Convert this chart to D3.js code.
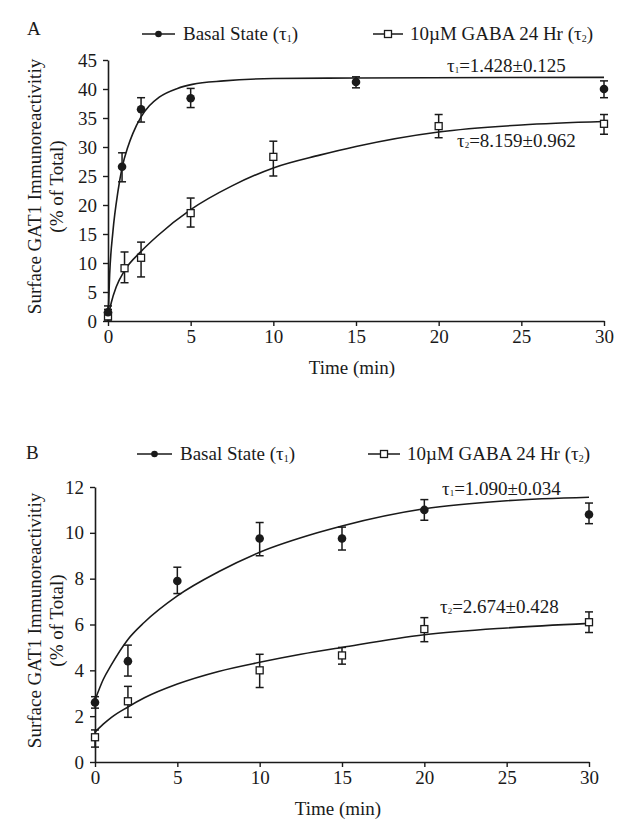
<!DOCTYPE html>
<html>
<head>
<meta charset="utf-8">
<script src="https://cdn.jsdelivr.net/npm/d3@7"></script>
<style>
  html, body { margin: 0; padding: 0; background: #fff; }
  svg { display: block; }
  text { font-family: "Liberation Serif", "Times New Roman", serif; fill: #1a1a1a; }
</style>
</head>
<body>
<svg id="chart" width="633" height="831"></svg>
<script>
// ---------------- DATA ----------------
const xTicks = [0, 5, 10, 15, 20, 25, 30];
const yTicksA = [0, 5, 10, 15, 20, 25, 30, 35, 40, 45];
const yTicksB = [0, 2, 4, 6, 8, 10, 12];

const seriesNames = ["Basal State", "10\u00B5M GABA 24 Hr"];

// Panel A — measured points (time, mean, low, high)
const aBasalT    = [0, 0.85, 2, 5, 15, 30];
const aBasalY    = [1.5, 26.6, 36.5, 38.4, 41.2, 40.0];
const aBasalLo   = [0.4, 24.0, 34.3, 36.8, 40.2, 38.5];
const aBasalHi   = [2.6, 29.0, 38.5, 40.1, 42.1, 41.4];

const aGabaT     = [0, 1, 2, 5, 10, 20, 30];
const aGabaY     = [0.8, 9.1, 10.9, 18.6, 28.3, 33.6, 34.0];
const aGabaLo    = [0.0, 6.6, 7.6, 16.2, 25.0, 31.6, 32.2];
const aGabaHi    = [2.0, 11.9, 13.6, 21.2, 31.0, 35.6, 35.6];

// Panel A — fitted curves
const aBasalFitT = [0, 0.1, 0.3, 0.6, 0.85, 1.2, 1.5, 2, 2.5, 3.1, 4.2, 5.1, 7, 10, 15, 30];
const aBasalFitY = [0, 8, 15.5, 22.3, 26.4, 30.0, 32.3, 35.2, 37.1, 38.6, 40.1, 40.8, 41.4, 41.8, 41.9, 42.0];
const aGabaFitT  = [0, 0.2, 0.5, 1, 2, 3, 5, 7.5, 10, 12.8, 15, 20, 25, 30];
const aGabaFitY  = [0.5, 3.2, 5.9, 8.7, 12.0, 14.7, 19.2, 23.3, 26.4, 28.6, 30.1, 32.6, 33.8, 34.4];

// Panel B — measured points
const bBasalT    = [0, 2, 5, 10, 15, 20, 30];
const bBasalY    = [2.6, 4.4, 7.9, 9.75, 9.75, 11.0, 10.8];
const bBasalLo   = [2.35, 3.75, 7.35, 9.0, 9.25, 10.55, 10.4];
const bBasalHi   = [2.85, 5.1, 8.5, 10.45, 10.25, 11.45, 11.3];

const bGabaT     = [0, 2, 10, 15, 20, 30];
const bGabaY     = [1.08, 2.65, 4.0, 4.65, 5.8, 6.1];
const bGabaLo    = [0.65, 1.95, 3.25, 4.27, 5.25, 5.65];
const bGabaHi    = [1.4, 3.3, 4.7, 5.0, 6.3, 6.55];

// Panel B — fitted curves
const bBasalFitT = [0, 0.5, 1, 2, 3, 5, 7.5, 10, 13.5, 15, 20, 25, 30];
const bBasalFitY = [2.7, 3.6, 4.25, 5.35, 6.1, 7.25, 8.3, 9.15, 10.0, 10.3, 11.05, 11.4, 11.55];
const bGabaFitT  = [0, 0.5, 1, 2, 3, 5, 7.5, 10, 12.5, 15, 20, 25, 30];
const bGabaFitY  = [1.3, 1.65, 1.95, 2.4, 2.8, 3.4, 3.95, 4.35, 4.7, 5.0, 5.55, 5.85, 6.05];

const tauA = [["1", "1.428\u00B10.125"], ["2", "8.159\u00B10.962"]];
const tauB = [["1", "1.090\u00B10.034"], ["2", "2.674\u00B10.428"]];

const yLabel1 = "Surface GAT1 Immunoreactivitiy";
const yLabel2 = "(% of Total)";
const xLabel = "Time (min)";

// ---------------- DRAW ----------------
const svg = d3.select("#chart");
const ink = "#1a1a1a";
const FS = 19;

function zip(t, y, lo, hi) {
  return t.map((d, i) => ({ t: d, y: y[i], lo: lo ? lo[i] : null, hi: hi ? hi[i] : null }));
}

function panel(cfg) {
  const g = svg.append("g");
  const x = d3.scaleLinear().domain([0, 30]).range([cfg.x0, cfg.x1]);
  const y = d3.scaleLinear().domain([0, cfg.yMax]).range([cfg.y0, cfg.y1]);

  // axes
  const xa = g.append("g").attr("transform", `translate(0,${cfg.y0})`)
    .call(d3.axisBottom(x).tickValues(xTicks).tickSize(5).tickSizeOuter(0).tickPadding(4));
  const ya = g.append("g").attr("transform", `translate(${cfg.x0},0)`)
    .call(d3.axisLeft(y).tickValues(cfg.yTicks).tickSize(5).tickSizeOuter(0).tickPadding(6));
  [xa, ya].forEach(a => {
    a.selectAll("path.domain").attr("stroke", ink).attr("stroke-width", 1.6);
    a.selectAll(".tick line").attr("stroke", ink).attr("stroke-width", 1.4);
    a.selectAll(".tick text").attr("font-size", FS).attr("fill", ink)
      .style("font-family", '"Liberation Serif", serif');
  });

  // axis titles
  g.append("text").attr("x", (cfg.x0 + cfg.x1) / 2 - 4).attr("y", cfg.y0 + 53)
    .attr("text-anchor", "middle").attr("font-size", FS).text(xLabel);
  const yc = (cfg.y0 + cfg.y1) / 2 - 4;
  g.append("text").attr("transform", `translate(${cfg.ylx1},${yc}) rotate(-90)`)
    .attr("text-anchor", "middle").attr("font-size", FS).text(yLabel1);
  g.append("text").attr("transform", `translate(${cfg.ylx2},${yc}) rotate(-90)`)
    .attr("text-anchor", "middle").attr("font-size", FS).text(yLabel2);

  // panel letter
  g.append("text").attr("x", cfg.letterX).attr("y", cfg.letterY)
    .attr("font-size", FS).text(cfg.letter);

  // legend
  const ly = cfg.legY;
  const lg = g.append("g");
  lg.append("line").attr("x1", cfg.leg1[0]).attr("x2", cfg.leg1[1]).attr("y1", ly).attr("y2", ly)
    .attr("stroke", ink).attr("stroke-width", 1.5);
  lg.append("circle").attr("cx", (cfg.leg1[0] + cfg.leg1[1]) / 2).attr("cy", ly).attr("r", 3.3).attr("fill", ink);
  const t1 = lg.append("text").attr("x", cfg.leg1[1] + 8).attr("y", ly + 6).attr("font-size", FS);
  t1.append("tspan").text(seriesNames[0] + " (\u03C4");
  t1.append("tspan").attr("font-size", 10).attr("dy", 2).text("1");
  t1.append("tspan").attr("dy", -2).text(")");

  lg.append("line").attr("x1", cfg.leg2[0]).attr("x2", cfg.leg2[1]).attr("y1", ly).attr("y2", ly)
    .attr("stroke", ink).attr("stroke-width", 1.5);
  lg.append("rect").attr("x", (cfg.leg2[0] + cfg.leg2[1]) / 2 - 3.5).attr("y", ly - 3.5)
    .attr("width", 7).attr("height", 7).attr("fill", "#fff").attr("stroke", ink).attr("stroke-width", 1.3);
  const t2 = lg.append("text").attr("x", cfg.leg2[1] + 7).attr("y", ly + 6).attr("font-size", FS);
  t2.append("tspan").text(seriesNames[1] + " (\u03C4");
  t2.append("tspan").attr("font-size", 10).attr("dy", 2).text("2");
  t2.append("tspan").attr("dy", -2).text(")");

  // fit curves
  const line = d3.line().x(d => x(d.t)).y(d => y(d.y)).curve(d3.curveMonotoneX);
  cfg.fits.forEach(f => {
    g.append("path").datum(zip(f[0], f[1])).attr("d", line)
      .attr("fill", "none").attr("stroke", ink).attr("stroke-width", 1.6);
  });

  // error bars + markers
  function errs(data) {
    const eg = g.append("g").attr("stroke", ink).attr("stroke-width", 1.5);
    data.forEach(d => {
      eg.append("line").attr("x1", x(d.t)).attr("x2", x(d.t)).attr("y1", y(d.lo)).attr("y2", y(d.hi));
      [d.lo, d.hi].forEach(v => {
        eg.append("line").attr("x1", x(d.t) - 4).attr("x2", x(d.t) + 4).attr("y1", y(v)).attr("y2", y(v));
      });
    });
  }
  const gaba = zip(...cfg.gaba);
  const basal = zip(...cfg.basal);
  errs(gaba);
  errs(basal);
  g.append("g").selectAll("rect").data(gaba).join("rect")
    .attr("x", d => x(d.t) - 3.5).attr("y", d => y(d.y) - 3.5)
    .attr("width", 7).attr("height", 7)
    .attr("fill", "#fff").attr("stroke", ink).attr("stroke-width", 1.3);
  g.append("g").selectAll("circle").data(basal).join("circle")
    .attr("cx", d => x(d.t)).attr("cy", d => y(d.y)).attr("r", 4.3).attr("fill", ink);

  // tau labels
  cfg.tauPos.forEach((p, i) => {
    const tx = g.append("text").attr("x", p[0]).attr("y", p[1]).attr("font-size", FS);
    tx.append("tspan").text("\u03C4");
    tx.append("tspan").attr("font-size", 9).attr("dy", 1).text(cfg.tau[i][0]);
    tx.append("tspan").attr("dy", -1).text("=" + cfg.tau[i][1]);
  });
}

panel({
  letter: "A", letterX: 27, letterY: 35,
  x0: 108, x1: 604, y0: 321, y1: 60, yMax: 45, yTicks: yTicksA,
  ylx1: 41, ylx2: 63,
  legY: 34, leg1: [142, 175], leg2: [373, 403],
  fits: [[aBasalFitT, aBasalFitY], [aGabaFitT, aGabaFitY]],
  basal: [aBasalT, aBasalY, aBasalLo, aBasalHi],
  gaba: [aGabaT, aGabaY, aGabaLo, aGabaHi],
  tau: tauA, tauPos: [[447, 72], [457, 147]]
});

panel({
  letter: "B", letterX: 26, letterY: 459,
  x0: 95, x1: 589, y0: 762, y1: 487, yMax: 12, yTicks: yTicksB,
  ylx1: 41, ylx2: 63,
  legY: 454, leg1: [137, 172], leg2: [368, 400],
  fits: [[bBasalFitT, bBasalFitY], [bGabaFitT, bGabaFitY]],
  basal: [bBasalT, bBasalY, bBasalLo, bBasalHi],
  gaba: [bGabaT, bGabaY, bGabaLo, bGabaHi],
  tau: tauB, tauPos: [[442, 495], [440, 613]]
});
</script>
</body>
</html>
